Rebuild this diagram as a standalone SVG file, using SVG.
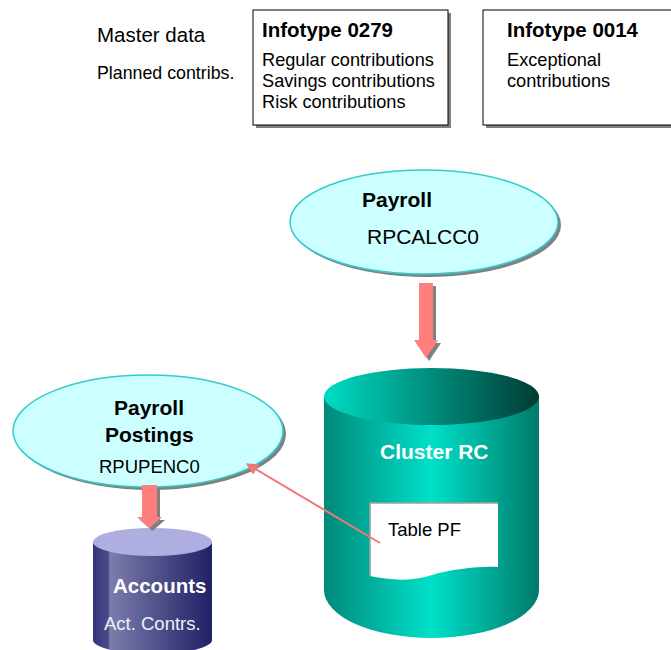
<svg xmlns="http://www.w3.org/2000/svg" width="671" height="650" viewBox="0 0 671 650">
<defs>
<style>
text{font-family:"Liberation Sans",Arial,sans-serif;fill:#000}
.b{font-weight:bold}
.w{fill:#fff}
.box{fill:#fff;stroke:#000;stroke-width:1}
.sh{fill:#808080}
.ell{fill:#ccffff;stroke:#33cccc;stroke-width:1.5}
.arr{fill:#ff7f7f}
.conn{stroke:#f07878;stroke-width:2;fill:none}
</style>
<linearGradient id="tealBody" x1="0" y1="0" x2="1" y2="0">
<stop offset="0" stop-color="#00887a"/>
<stop offset="0.5" stop-color="#00e0c8"/>
<stop offset="1" stop-color="#007a6a"/>
</linearGradient>
<linearGradient id="tealTop" x1="0" y1="0" x2="1" y2="0">
<stop offset="0" stop-color="#00dcc4"/>
<stop offset="1" stop-color="#003c34"/>
</linearGradient>
<linearGradient id="navyBody" x1="0" y1="0" x2="1" y2="0">
<stop offset="0" stop-color="#34347a"/>
<stop offset="0.13" stop-color="#4c4c8c"/>
<stop offset="0.14" stop-color="#7c7cac"/>
<stop offset="1" stop-color="#202066"/>
</linearGradient>
<marker id="ah" viewBox="0 0 10 10" refX="9" refY="5" markerWidth="6" markerHeight="6" orient="auto" markerUnits="strokeWidth">
<path d="M0,0 L10,5 L0,10 Z" fill="#f07878"/>
</marker>
</defs>

<g id="labels">
<text x="97" y="42" font-size="20.5">Master data</text>
<text x="97" y="79" font-size="17.8">Planned contribs.</text>
</g>

<g id="infotype0279">
<rect class="sh" x="256" y="13" width="195" height="115"/>
<rect class="box" x="253" y="10" width="195" height="115"/>
<text class="b" x="262" y="37" font-size="20.5">Infotype 0279</text>
<text x="262" y="66" font-size="18.2">Regular contributions</text>
<text x="262" y="87" font-size="18.2">Savings contributions</text>
<text x="262" y="108" font-size="18.2">Risk contributions</text>
</g>

<g id="infotype0014">
<rect class="sh" x="486" y="13" width="200" height="115"/>
<rect class="box" x="483" y="10" width="200" height="115"/>
<text class="b" x="507" y="37" font-size="20.5">Infotype 0014</text>
<text x="507" y="66" font-size="18.2">Exceptional</text>
<text x="507" y="87" font-size="18.2">contributions</text>
</g>

<g id="payroll">
<ellipse class="sh" cx="427" cy="225" rx="134" ry="52"/>
<ellipse class="ell" cx="424" cy="222" rx="134" ry="52"/>
<text class="b" x="362" y="207" font-size="21">Payroll</text>
<text x="367" y="244" font-size="21">RPCALCC0</text>
</g>

<g id="payrollPostings">
<ellipse class="sh" cx="151" cy="434" rx="135" ry="56"/>
<ellipse class="ell" cx="148" cy="431" rx="135" ry="56"/>
<text class="b" x="114" y="415" font-size="21">Payroll</text>
<text class="b" x="105" y="442" font-size="21">Postings</text>
<text x="99" y="473" font-size="18.5">RPUPENC0</text>
</g>

<g id="clusterRC">
<path d="M324,397 L324,590 A107.5,48 0 0 0 539,590 L539,397 Z" fill="url(#tealBody)"/>
<ellipse cx="431.5" cy="396.5" rx="107.5" ry="28.5" fill="url(#tealTop)"/>
<text class="b w" x="380" y="459" font-size="21">Cluster RC</text>
</g>

<g id="tablePF">
<path d="M370,503 L498,503 L498,567 C480,566 452,569 432,575 C410,582 390,580 370,576 Z" fill="#fff"/>
<path d="M370,576 L370,503 L498,503" fill="none" stroke="#a0a0a0" stroke-width="1.5"/>
<text x="388" y="536" font-size="18.5">Table PF</text>
</g>

<g id="accounts">
<path d="M93,542 L93,640 A59.5,14 0 0 0 212,640 L212,542 Z" fill="url(#navyBody)"/>
<ellipse cx="152.5" cy="542" rx="59.5" ry="14" fill="#aeaee0"/>
<text class="b w" x="113" y="593" font-size="20.5">Accounts</text>
<text x="104" y="630" font-size="18.5" style="fill:#f0f0f8">Act. Contrs.</text>
</g>

<g id="connectors">
<polygon class="sh" points="422,286 436,286 436,343 441,343 429,361 417,343 422,343"/>
<polygon class="arr" points="419,283 433,283 433,340 438,340 426,358 414,340 419,340"/>
<polygon class="sh" points="145,488 160,488 160,520 165,520 152.5,531 140,520 145,520"/>
<polygon class="arr" points="142,485 157,485 157,517 162,517 149.5,528 137,517 142,517"/>
<line class="conn" x1="380" y1="543" x2="247" y2="464" marker-end="url(#ah)"/>
</g>
</svg>
